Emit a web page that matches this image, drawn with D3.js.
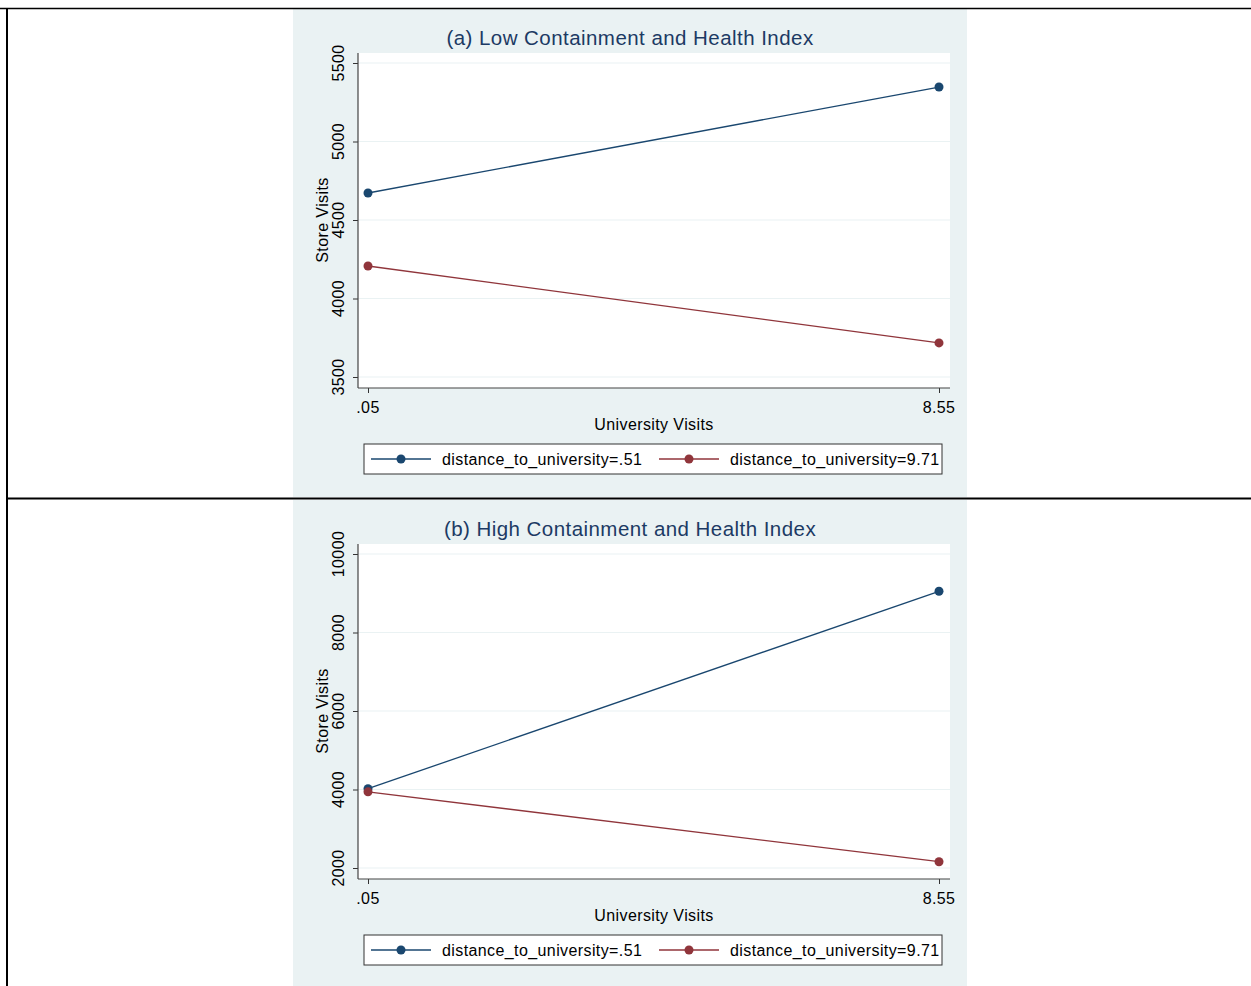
<!DOCTYPE html>
<html>
<head>
<meta charset="utf-8">
<script src="https://cdn.jsdelivr.net/npm/d3@7"></script>
<style>
body{margin:0;background:#fff;}
svg{display:block;font-family:"Liberation Sans",Arial,sans-serif;}
</style>
</head>
<body>
<div id="chart"></div>
<script>
// values
var xVals=[0.05,8.55];
var xTickLbl=[".05","8.55"];
var seriesNames=["distance_to_university=.51","distance_to_university=9.71"];
var colorlst=["#1a476f","#90353b"];
var titles=["(a) Low Containment and Health Index","(b) High Containment and Health Index"];
var lowNear=[4672,5347],lowFar=[4207,3717];
var highNear=[4020,9050],highFar=[3940,2160];
var lowTicks=[3500,4000,4500,5000,5500];
var highTicks=[2000,4000,6000,8000,10000];

var panels=[
  {title:titles[0],series:[lowNear,lowFar],ticks:lowTicks,off:0},
  {title:titles[1],series:[highNear,highFar],ticks:highTicks,off:491}
];

var ww=1251,hh=986;
var svg=d3.select("#chart").append("svg").attr("width",ww).attr("height",hh);

// panel backgrounds
svg.append("rect").attr("x",293).attr("y",9).attr("width",674).attr("height",488).attr("fill","#eaf2f3");
svg.append("rect").attr("x",293).attr("y",500).attr("width",674).attr("height",486).attr("fill","#eaf2f3");

var x=d3.scaleLinear().domain([xVals[0],xVals[1]]).range([368,939]);

panels.forEach(function(p){
  var g=svg.append("g").attr("transform","translate(0,"+p.off+")");
  var y=d3.scaleLinear().domain([p.ticks[0],p.ticks[p.ticks.length-1]]).range([377,63]);

  g.append("rect").attr("x",358).attr("y",53).attr("width",592).attr("height",335).attr("fill","#fff");

  // grid
  g.selectAll("line.grid").data(p.ticks).enter().append("line")
    .attr("class","grid")
    .attr("x1",358).attr("x2",950)
    .attr("y1",function(d){return y(d);}).attr("y2",function(d){return y(d);})
    .attr("stroke","#eaf2f3").attr("stroke-width",1.2);

  // y axis
  var ya=g.append("g").attr("transform","translate(358,0)")
    .call(d3.axisLeft(y).tickValues(p.ticks).tickSize(5).tickFormat(""));
  ya.select(".domain").remove();
  ya.selectAll(".tick line").attr("stroke","#333");
  g.selectAll("text.ylbl").data(p.ticks).enter().append("text")
    .attr("class","ylbl")
    .attr("transform",function(d){return "translate(344,"+y(d)+") rotate(-90)";})
    .attr("text-anchor","middle").attr("font-size",16).attr("letter-spacing",0.4).attr("fill","#000")
    .text(function(d){return d;});
  g.append("line").attr("x1",358).attr("x2",358).attr("y1",53).attr("y2",388).attr("stroke","#444").attr("stroke-width",1.2);

  // x axis
  var xa=g.append("g").attr("transform","translate(0,388)")
    .call(d3.axisBottom(x).tickValues(xVals).tickSize(5).tickFormat(""));
  xa.select(".domain").remove();
  xa.selectAll(".tick line").attr("stroke","#333");
  g.selectAll("text.xlbl").data(xVals).enter().append("text")
    .attr("class","xlbl")
    .attr("x",function(d){return x(d);}).attr("y",413)
    .attr("text-anchor","middle").attr("font-size",16).attr("letter-spacing",0.4).attr("fill","#000")
    .text(function(d,i){return xTickLbl[i];});
  g.append("line").attr("x1",358).attr("x2",950).attr("y1",388).attr("y2",388).attr("stroke","#444").attr("stroke-width",1.2);

  // titles
  g.append("text").attr("x",630).attr("y",45).attr("text-anchor","middle")
    .attr("font-size",20.5).attr("letter-spacing",0.45).attr("fill","#1c3a64").text(p.title);
  g.append("text").attr("transform","translate(328,220) rotate(-90)")
    .attr("text-anchor","middle").attr("font-size",16).attr("letter-spacing",0.4).attr("fill","#000").text("Store Visits");
  g.append("text").attr("x",654).attr("y",430).attr("text-anchor","middle")
    .attr("font-size",16).attr("letter-spacing",0.4).attr("fill","#000").text("University Visits");

  // series
  var line=d3.line().x(function(d,i){return x(xVals[i]);}).y(function(d){return y(d);});
  p.series.forEach(function(s,k){
    g.append("path").datum(s).attr("d",line).attr("fill","none")
      .attr("stroke",colorlst[k]).attr("stroke-width",1.3);
    g.selectAll("circle.s"+k).data(s).enter().append("circle")
      .attr("class","s"+k)
      .attr("cx",function(d,i){return x(xVals[i]);}).attr("cy",function(d){return y(d);})
      .attr("r",4.5).attr("fill",colorlst[k]);
  });

  // legend
  g.append("rect").attr("x",364).attr("y",444).attr("width",578).attr("height",30)
    .attr("fill","#fff").attr("stroke","#333").attr("stroke-width",1);
  var lx=[371,659];
  seriesNames.forEach(function(n,k){
    g.append("line").attr("x1",lx[k]).attr("x2",lx[k]+60).attr("y1",459).attr("y2",459)
      .attr("stroke",colorlst[k]).attr("stroke-width",1.3);
    g.append("circle").attr("cx",lx[k]+30).attr("cy",459).attr("r",4.5).attr("fill",colorlst[k]);
    g.append("text").attr("x",lx[k]+71).attr("y",465).attr("font-size",16).attr("letter-spacing",0.4).attr("fill","#000").text(n);
  });
});

// table rules
svg.append("line").attr("x1",0).attr("x2",ww).attr("y1",8.5).attr("y2",8.5).attr("stroke","#000").attr("stroke-width",1.5);
svg.append("line").attr("x1",6).attr("x2",ww).attr("y1",498.5).attr("y2",498.5).attr("stroke","#000").attr("stroke-width",2);
svg.append("line").attr("x1",7).attr("x2",7).attr("y1",8).attr("y2",hh).attr("stroke","#000").attr("stroke-width",2);
</script>
</body>
</html>
